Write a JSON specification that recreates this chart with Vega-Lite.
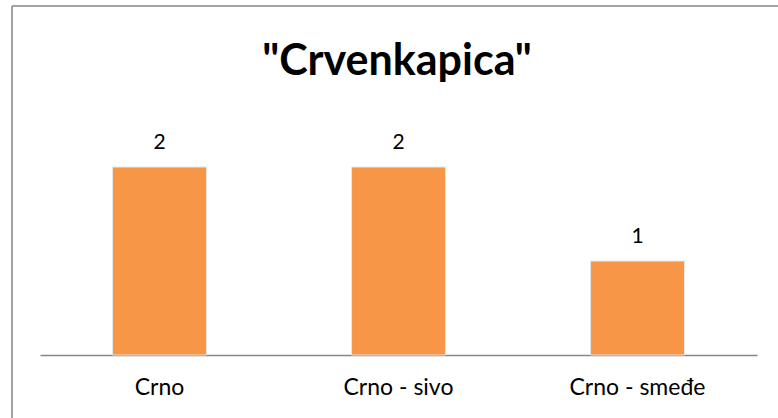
{
  "$schema": "https://vega.github.io/schema/vega-lite/v6.json",
  "autosize": "none",
  "padding": {"left": 12, "top": 6, "right": 0, "bottom": 0},
  "width": 766,
  "height": 412,
  "background": "white",
  "config": {"view": {"stroke": "#868686", "strokeWidth": 1.5, "strokeDash": [766, 1178, 412, 0]}},
  "title": {"text": "\"Crvenkapica\"", "font": "Lato", "fontSize": 43, "fontWeight": "bold", "color": "#000000", "anchor": "middle", "frame": "group", "offset": -78, "dx": 2},
  "data": {"values": [
    {"kategorija": "Crno", "vrijednost": 2},
    {"kategorija": "Crno - sivo", "vrijednost": 2},
    {"kategorija": "Crno - smeđe", "vrijednost": 1}
  ]},
  "encoding": {
    "x": {"field": "kategorija", "type": "nominal", "sort": null,
      "scale": {"range": [28, 745], "paddingInner": 0.607, "paddingOuter": 0.3035},
      "axis": {"title": null, "orient": "bottom", "offset": -63, "labelAngle": 0, "ticks": false, "domainColor": "#868686", "domainWidth": 1.5, "labelFont": "Lato", "labelFontSize": 23, "labelColor": "#000000", "labelPadding": 21}},
    "y": {"field": "vrijednost", "type": "quantitative", "scale": {"domain": [-0.670, 3.713], "zero": false, "nice": false}, "axis": null}
  },
  "layer": [
    {"mark": {"type": "bar", "color": "#F79646", "stroke": "#e6e6e6", "strokeWidth": 1}},
    {"mark": {"type": "text", "baseline": "bottom", "dy": -14, "font": "Lato", "fontSize": 21, "color": "#000000"},
     "encoding": {"text": {"field": "vrijednost", "type": "quantitative"}}}
  ]
}
